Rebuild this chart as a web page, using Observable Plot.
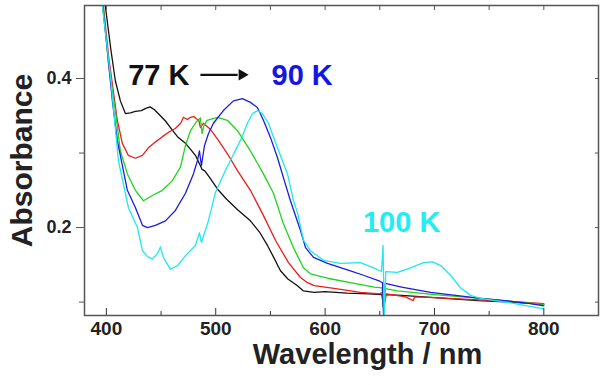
<!DOCTYPE html>
<html><head><meta charset="utf-8">
<script src="https://cdn.jsdelivr.net/npm/d3@7"></script>
<script src="https://cdn.jsdelivr.net/npm/@observablehq/plot@0.6"></script>
<style>body{margin:0;background:#fff} svg{display:block}</style>
</head><body><div id="chart"></div>
<script>
// ---- data ----
const seriesNames = ["77 K", "T2", "T3", "90 K", "100 K"];
const seriesColors = ["#111111", "#ee1c1c", "#1ed41e", "#1c1cdd", "#1ee8f0"];

const wl77 = [396.6, 399, 404, 408.2, 412.8, 417.4, 422, 426.5, 432, 436, 440, 444, 449.4, 454, 458.6, 465, 472.3, 477, 481.4, 486, 487.5, 490, 495, 502.5, 510, 520, 531.7, 540, 547.3, 553, 559.2, 566, 574.7, 580.2, 585, 590, 600, 620, 640, 652, 653.5, 655, 670, 700, 740, 770, 800];
const abs77 = [0.53, 0.498, 0.44, 0.397, 0.370, 0.353, 0.354, 0.356, 0.357, 0.360, 0.362, 0.358, 0.350, 0.343, 0.334, 0.322, 0.313, 0.305, 0.297, 0.283, 0.278, 0.276, 0.266, 0.250, 0.238, 0.224, 0.209, 0.194, 0.176, 0.160, 0.142, 0.131, 0.122, 0.115, 0.114, 0.113, 0.114, 0.112, 0.111, 0.110, 0.092, 0.110, 0.109, 0.106, 0.102, 0.100, 0.097];

const wlT2 = [395, 402, 410, 414.6, 420, 426.5, 433, 438.4, 445, 451.2, 457, 463, 468, 470.4, 474, 476.9, 480, 482.3, 484.5, 486, 488.7, 495, 502, 510.7, 520, 531.7, 543, 554.6, 566.5, 577.5, 583.9, 590, 605, 632.4, 650, 652.5, 654, 656, 673.6, 679, 680.5, 682, 700, 740, 770, 800];
const absT2 = [0.53, 0.43, 0.344, 0.313, 0.297, 0.293, 0.297, 0.307, 0.315, 0.322, 0.328, 0.333, 0.340, 0.348, 0.345, 0.348, 0.349, 0.346, 0.344, 0.334, 0.340, 0.332, 0.318, 0.299, 0.276, 0.250, 0.218, 0.183, 0.153, 0.133, 0.126, 0.122, 0.119, 0.113, 0.111, 0.113, 0.095, 0.111, 0.107, 0.103, 0.102, 0.107, 0.106, 0.103, 0.101, 0.098];

const wlT3 = [395, 402, 408.2, 412.8, 419.2, 426.5, 433.9, 442.1, 451.2, 460.4, 467.7, 472.3, 476.9, 482.3, 486, 487.5, 489, 492, 501.6, 510.7, 519.9, 531.7, 543.6, 552.8, 561.9, 571.1, 580.2, 586.6, 602.2, 623.2, 645, 652, 653.5, 655, 666.2, 700, 742.2, 770, 800];
const absT3 = [0.53, 0.42, 0.357, 0.303, 0.272, 0.250, 0.236, 0.243, 0.250, 0.263, 0.281, 0.310, 0.330, 0.342, 0.347, 0.326, 0.336, 0.344, 0.348, 0.344, 0.330, 0.303, 0.272, 0.246, 0.205, 0.173, 0.146, 0.138, 0.132, 0.126, 0.120, 0.119, 0.090, 0.118, 0.115, 0.110, 0.105, 0.101, 0.097];

const wl90 = [394.3, 400, 405.5, 410, 419.2, 426.5, 433, 437.5, 444.8, 454, 463.1, 472.3, 479.6, 483.3, 485.1, 486.9, 489.7, 493.3, 497.9, 507, 516.2, 524.4, 531.7, 538.1, 543.6, 550, 556.4, 561.9, 568.3, 577.5, 582.1, 589.4, 602.2, 623.2, 635.1, 650, 652.5, 653.5, 655, 670, 696.4, 742.2, 770, 787.9, 800];
const abs90 = [0.53, 0.45, 0.370, 0.317, 0.250, 0.227, 0.203, 0.200, 0.203, 0.209, 0.223, 0.246, 0.272, 0.290, 0.303, 0.283, 0.310, 0.326, 0.340, 0.357, 0.370, 0.373, 0.368, 0.361, 0.344, 0.321, 0.294, 0.267, 0.236, 0.196, 0.173, 0.160, 0.152, 0.142, 0.136, 0.128, 0.126, 0.080, 0.125, 0.120, 0.113, 0.105, 0.101, 0.098, 0.095];

const wl100 = [394, 396.3, 403.7, 411, 420.1, 428.4, 433, 437.5, 442.1, 446.7, 449.4, 452.1, 458.6, 465, 474.1, 481.4, 485.1, 486.9, 493.3, 499.7, 508.9, 513.4, 522.6, 529, 533.6, 538.2, 542.7, 548.2, 556.4, 565.6, 571.1, 574.7, 580.2, 586.6, 598.5, 614.1, 632.4, 644.3, 651.6, 653, 654, 655.5, 666.2, 678.1, 690, 698.3, 705.6, 714.7, 723.9, 733, 742.2, 769.6, 799.8];
const abs100 = [0.53, 0.498, 0.404, 0.290, 0.227, 0.200, 0.169, 0.161, 0.158, 0.165, 0.174, 0.160, 0.144, 0.149, 0.165, 0.176, 0.193, 0.180, 0.209, 0.247, 0.277, 0.290, 0.317, 0.340, 0.353, 0.357, 0.353, 0.340, 0.307, 0.272, 0.236, 0.220, 0.183, 0.169, 0.156, 0.152, 0.153, 0.146, 0.141, 0.176, 0.079, 0.141, 0.140, 0.146, 0.153, 0.154, 0.149, 0.136, 0.119, 0.109, 0.105, 0.099, 0.091];

const xMajorTicks = [400, 500, 600, 700, 800];
const xMinorTicks = [450, 550, 650, 750];
const xTopTicks = [400, 450, 500, 550, 600, 650, 700, 750, 800];
const yMajorTicks = [0.2, 0.4];
const yMinorTicks = [0.1, 0.3];
const yRightTicks = [0.1, 0.2, 0.3, 0.4];

// ---- build table ----
const wls = [wl77, wlT2, wlT3, wl90, wl100];
const abss = [abs77, absT2, absT3, abs90, abs100];
const rows = [];
seriesNames.forEach((s, i) => wls[i].forEach((w, j) => rows.push({series: s, wl: w, a: abss[i][j]})));

const FONT = "'Liberation Sans', Arial, Helvetica, sans-serif";

const chart = Plot.plot({
  width: 606,
  height: 385,
  marginLeft: 84,
  marginRight: 8,
  marginTop: 5,
  marginBottom: 70,
  style: {fontFamily: FONT, background: "#fff", color: "#222"},
  x: {domain: [380, 850]},
  y: {domain: [0.082, 0.498]},
  color: {domain: seriesNames, range: seriesColors},
  marks: [
    Plot.line(rows, {x: "wl", y: "a", z: "series", stroke: "series", strokeWidth: 1.3, clip: true}),
    Plot.frame({stroke: "#555", strokeWidth: 1.5}),
    Plot.axisX(xMajorTicks, {anchor: "bottom", tickSize: -7, tickPadding: 13, fontSize: 19, fontWeight: "bold", label: null, stroke: "#333", fill: "#222"}),
    Plot.axisX(xMinorTicks, {anchor: "bottom", tickSize: -4, tickFormat: () => "", label: null, stroke: "#333"}),
    Plot.axisX(xTopTicks, {anchor: "top", tickSize: -4, tickFormat: () => "", label: null, stroke: "#555"}),
    Plot.axisY(yMajorTicks, {anchor: "left", tickSize: 8, tickPadding: 5, tickFormat: d => d.toFixed(1), fontSize: 18, fontWeight: "bold", label: null, stroke: "#555", fill: "#222"}),
    Plot.axisY(yMinorTicks, {anchor: "left", tickSize: 5, tickFormat: () => "", label: null, stroke: "#555"}),
    Plot.axisY(yRightTicks, {anchor: "right", tickSize: -4, tickFormat: () => "", label: null, stroke: "#555"}),
    Plot.axisY([], {anchor: "left", label: "Absorbance", labelAnchor: "center", labelArrow: "none", labelOffset: 74, fontSize: 30, fontWeight: "bold", fill: "#222"}),
    Plot.text(["Wavelength / nm"], {frameAnchor: "bottom", dx: 26, dy: 48, fontSize: 29, fontWeight: "bold", fill: "#222"}),
    Plot.text(["77 K"], {x: 448, y: 0.404, fontSize: 29, fontWeight: "bold", fill: "#111"}),
    Plot.link([0], {x1: 486, y1: 0.405, x2: 520, y2: 0.405, stroke: "#111", strokeWidth: 2.2}),
    Plot.dot([0], {x: 524, y: 0.405, symbol: "triangle2", rotate: 90, r: 5.5, fill: "#111", stroke: null}),
    Plot.text(["90 K"], {x: 579, y: 0.404, fontSize: 29, fontWeight: "bold", fill: "#1515e6"}),
    Plot.text(["100 K"], {x: 670, y: 0.206, fontSize: 29, fontWeight: "bold", fill: "#22eef2"})
  ]
});
document.getElementById("chart").appendChild(chart);
</script>
</body></html>
